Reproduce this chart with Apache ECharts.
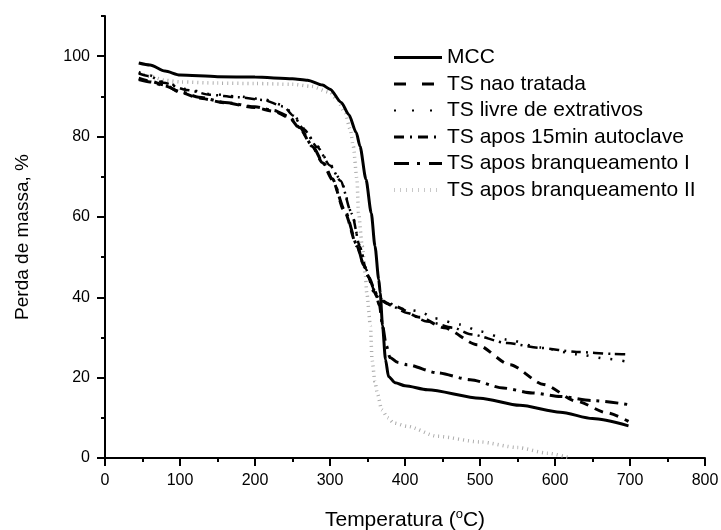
<!DOCTYPE html>
<html>
<head>
<meta charset="utf-8">
<title>TGA</title>
<script src="https://cdn.jsdelivr.net/npm/echarts@6/dist/echarts.min.js"></script>
<style>
    html,body{margin:0;padding:0;background:#fff;}
    #myEchars{width:721px;height:530px;}
</style>
</head>
<body>
<div id="myEchars"></div>
<script>
    //legend names
    var seriesNames = ['MCC','TS nao tratada','TS livre de extrativos','TS apos 15min autoclave','TS apos branqueamento I','TS apos branqueamento II'];
    var xTicks = [0,100,200,300,400,500,600,700,800];
    var yTicks = [0,20,40,60,80,100];

    //MCC
    var mccT = [45,60,80,100,150,200,250,270,290,300,315,325,335,340,348,355,360,365,367,370,374,378,387,400,430,500,553,607,650,698];
    var mccY = [98.3,97.8,96.3,95.3,94.9,94.8,94.4,94.0,92.8,91.8,88.5,85.5,81,77.6,69.3,61,52.7,44.4,41,33,24.5,20.3,18.7,18.0,17.0,14.9,13.1,11.4,9.8,8.0];

    //TS nao tratada
    var naoT = [45,60,80,100,125,160,200,225,245,260,276,290,303,320,336,345,351,358,365,385,420,452,496,540,585,629,670,698];
    var naoY = [94.5,93.8,92.8,91.0,89.6,88.4,87.2,86.3,84.8,82,77.6,73.5,69.3,61,52.7,48,45.2,41.5,39.5,37.8,35.0,32.4,28.2,23.2,18.3,14.1,11.2,9.1];

    //TS livre de extrativos
    var livreT = [45,60,78,109,140,176,211,238,251,265,283,300,314,329,340,348,354,360,366,376,400,420,438,474,500,536,580,630,670,700];
    var livreY = [96.0,95.2,93.6,91.8,90.6,90.0,89.3,87.8,85.5,82,77.6,73,69.3,61,52.7,47,44,41.5,39.8,38.6,37.0,36.5,34.8,33.2,31.5,29.5,27.5,25.8,24.7,23.8];

    //TS apos 15min autoclave
    var autoT = [45,60,78,109,140,176,211,238,251,265,283,300,314,329,340,348,354,360,366,376,403,429,465,487,536,580,629,678,698];
    var autoY = [95.7,95.0,93.4,91.6,90.4,89.8,89.1,87.5,85.2,81.8,77.4,72.8,69,60.8,52.5,47,44,41,39.5,38.4,36.1,34,32.4,30.8,28.6,27.4,26.4,25.9,25.8];

    //TS apos branqueamento I
    var br1T = [45,60,80,100,125,160,200,225,245,260,276,291,303,320,336,345,352,360,366,370,375,380,390,403,443,487,531,570,607,650,698];
    var br1Y = [94.2,93.6,92.6,91.2,89.8,88.5,87.4,86.5,85,82.2,77.8,73.5,69.5,61.5,53,48,45,41.5,38,33,28,25,23.8,23.2,21.2,19.5,17.4,16.2,15.3,14.3,13.3];

    //TS apos branqueamento II
    var br2T = [45,60,80,100,150,200,250,275,300,310,320,327,331,336,338,343,347,349,354,356,360,363,369,377,385,403,443,500,550,590,618];
    var br2Y = [96.0,95.0,94.0,93.6,93.3,93.2,93.0,92.5,91,89,85.9,81.8,77.6,69.3,61,52.7,46,41.1,32.8,24.5,19,16.2,12,10,8.7,7.9,5.4,4.0,2.6,1.2,0.1];

    function pairs(t,y){
        var arr = [];
        for(var i=0;i<t.length;i++){
            arr.push([t[i],y[i]]);
        }
        return arr;
    }

    var font = "'Liberation Sans', Arial, sans-serif";

    //line styles: solid, dashed, dotted, dash-dot(faint), dash-dot, gray ticks
    var styles = [
        {color:'#000',width:3,type:'solid'},
        {color:'#000',width:3,type:[9,7]},
        {color:'#000',width:2.5,type:[2,10]},
        {color:'#000',width:2.5,type:[10,5,2,5]},
        {color:'#000',width:3,type:[13,6,3,6]},
        {color:'#adadad',width:3.5,type:[1,4]}
    ];
    var legendStyles = [
        {color:'#000',width:3,type:'solid'},
        {color:'#000',width:3,type:[12,16]},
        {color:'#000',width:2,type:[2,16]},
        {color:'#000',width:3,type:[10,6,2,6]},
        {color:'#000',width:3,type:[15,8,3,9]},
        {color:'#c8c8c8',width:4,type:[1,5]}
    ];
    var dataList = [pairs(mccT,mccY),pairs(naoT,naoY),pairs(livreT,livreY),pairs(autoT,autoY),pairs(br1T,br1Y),pairs(br2T,br2Y)];
    var zs = [8,6,5,5,7,2];

    var series = [];
    var legendData = [];
    for(var i=0;i<seriesNames.length;i++){
        series.push({
            name: seriesNames[i],
            type: 'line',
            data: dataList[i],
            showSymbol: false,
            symbol: 'none',
            smooth: 0.25,
            smoothMonotone: 'x',
            z: zs[i],
            lineStyle: styles[i],
            itemStyle: {color: styles[i].color},
            emphasis: {disabled: true}
        });
        legendData.push({name: seriesNames[i], lineStyle: legendStyles[i], itemStyle: {color: legendStyles[i].color, opacity: 0}});
    }

    var myEchars = echarts.init(document.getElementById('myEchars'));
    var option = {
        animation: false,
        backgroundColor: '#fff',
        grid: {
            left: 105,
            right: 16,
            top: 16,
            bottom: 72,
            outerBoundsMode: 'none'
        },
        legend: {
            orient: 'vertical',
            left: 387,
            top: 42,
            itemWidth: 48,
            itemHeight: 14,
            itemGap: 5.5,
            data: legendData,
            textStyle: {
                color: '#000',
                fontSize: 21,
                fontFamily: font
            }
        },
        xAxis: {
            type: 'value',
            min: 0,
            max: 800,
            interval: 100,
            name: '{a|Temperatura (}{s|o}{a|C)}',
            nameLocation: 'middle',
            nameGap: 50,
            nameTextStyle: {
                rich: {
                    a: {fontSize: 21, fontFamily: font, color: '#000', lineHeight: 24},
                    s: {fontSize: 13, fontFamily: font, color: '#000', verticalAlign: 'top', lineHeight: 13}
                }
            },
            axisLine: {lineStyle: {color: '#000', width: 2}},
            axisTick: {length: 8, lineStyle: {color: '#000', width: 2}},
            minorTick: {show: true, splitNumber: 2, length: 4, lineStyle: {color: '#000', width: 2}},
            axisLabel: {
                color: '#000',
                fontSize: 16,
                fontFamily: font,
                margin: 15,
                customValues: xTicks
            },
            splitLine: {show: false}
        },
        yAxis: [{
            type: 'value',
            min: 0,
            max: 110,
            interval: 20,
            name: 'Perda de massa, %',
            nameLocation: 'middle',
            nameGap: 73,
            nameTextStyle: {color: '#000', fontSize: 19, fontFamily: font},
            axisLine: {lineStyle: {color: '#000', width: 2}},
            axisTick: {length: 8, lineStyle: {color: '#000', width: 2}, customValues: yTicks},
            axisLabel: {
                color: '#000',
                fontSize: 16,
                fontFamily: font,
                margin: 15,
                customValues: yTicks
            },
            splitLine: {show: false}
        },{
            //minor ticks every 10
            type: 'value',
            position: 'left',
            min: 0,
            max: 110,
            interval: 10,
            axisLine: {show: false},
            axisTick: {length: 4, lineStyle: {color: '#000', width: 2}},
            axisLabel: {show: false},
            splitLine: {show: false}
        }],
        series: series
    };
    myEchars.setOption(option);
</script>
</body>
</html>
